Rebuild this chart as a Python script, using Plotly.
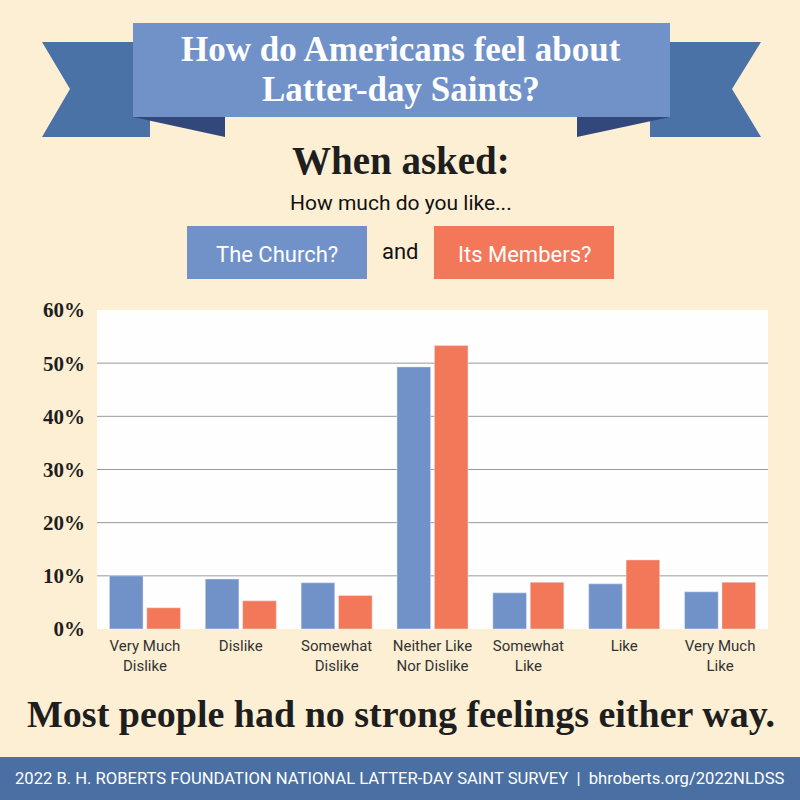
import plotly.graph_objects as go

categories = ["Very Much<br>Dislike", "Dislike", "Somewhat<br>Dislike", "Neither Like<br>Nor Dislike",
              "Somewhat<br>Like", "Like", "Very Much<br>Like"]
church = [10.0, 9.4, 8.7, 49.3, 6.8, 8.5, 7.0]
members = [4.0, 5.3, 6.3, 53.3, 8.8, 13.0, 8.8]
tick_vals = [0, 10, 20, 30, 40, 50, 60]
tick_text = ["0%", "10%", "20%", "30%", "40%", "50%", "60%"]

BG = "#FDEFD3"
BLUE = "#7192C9"
ORANGE = "#F27859"
RIBBON = "#4A72A6"
FOLD = "#33487A"
FOOT = "#4A6FA2"
SERIF = "Liberation Serif"
SANS = "Roboto"

W, H = 800, 800
L, R, T, B = 97, 32, 310, 171
PW, PH = W - L - R, H - T - B


def px(x):
    return (x - L) / PW


def py(y):
    return (H - B - y) / PH


fig = go.Figure()
fig.add_bar(x=categories, y=church, marker_color=BLUE, name="The Church?")
fig.add_bar(x=categories, y=members, marker_color=ORANGE, name="Its Members?")

shapes = []
# grid lines
for v in tick_vals[1:-1]:
    shapes.append(dict(type="line", xref="paper", yref="y", x0=0, x1=1, y0=v, y1=v,
                       line=dict(color="#9A9A9A", width=1), layer="below"))


def poly(points, color):
    d = "M " + " L ".join(f"{px(x):.5f},{py(y):.5f}" for x, y in points) + " Z"
    return dict(type="path", xref="paper", yref="paper", path=d, fillcolor=color,
                line=dict(width=0), layer="above")


# ribbon ends
shapes.append(poly([(42, 42), (150, 42), (150, 137), (42, 137), (70, 89)], RIBBON))
shapes.append(poly([(761, 42), (650, 42), (650, 137), (761, 137), (732, 89)], RIBBON))
shapes.append(poly([(133, 117), (225, 117), (225, 137)], FOLD))
shapes.append(poly([(670, 117), (577, 117), (577, 137)], FOLD))
# banner
shapes.append(poly([(133, 23), (670, 23), (670, 117), (133, 117)], BLUE))
# boxes
shapes.append(poly([(187, 226), (367, 226), (367, 279), (187, 279)], BLUE))
shapes.append(poly([(434, 226), (614, 226), (614, 279), (434, 279)], ORANGE))
# footer band
shapes.append(poly([(0, 757), (800, 757), (800, 800), (0, 800)], FOOT))

ann = []


def text(x, y, s, size, color, family, bold=False):
    ann.append(dict(xref="paper", yref="paper", x=px(x), y=py(y), text=(f"<b>{s}</b>" if bold else s),
                    showarrow=False, xanchor="center", yanchor="middle",
                    font=dict(size=size, color=color, family=family)))


text(401, 49, "How do Americans feel about", 35, "white", SERIF, True)
text(401, 89, "Latter-day Saints?", 35, "white", SERIF, True)
text(401, 160, "When asked:", 39, "#1E1E1E", SERIF, True)
text(401, 203, "How much do you like...", 21, "#111111", SANS)
text(277, 254, "The Church?", 22, "white", SANS)
text(400, 252, "and", 22, "#111111", SANS)
text(524, 254, "Its Members?", 22, "white", SANS)
text(401, 714, "Most people had no strong feelings either way.", 38, "#1E1E1E", SERIF, True)
text(400, 778, "2022 B. H. ROBERTS FOUNDATION NATIONAL LATTER-DAY SAINT SURVEY  |  bhroberts.org/2022NLDSS",
     16.6, "white", SANS)

fig.update_layout(
    width=W, height=H,
    margin=dict(l=L, r=R, t=T, b=B, pad=0),
    paper_bgcolor=BG, plot_bgcolor="#FEFEFE",
    barmode="group", bargap=0.22, bargroupgap=0.1,
    showlegend=False,
    shapes=shapes, annotations=ann,
    xaxis=dict(showgrid=False, showline=False, ticks="", fixedrange=True, ticklabelstandoff=6,
               tickfont=dict(family=SANS, size=15, color="#333333")),
    yaxis=dict(range=[0, 60], tickvals=tick_vals, ticktext=[f"<b>{t}</b>" for t in tick_text],
               showgrid=False, zeroline=False, showline=False, ticks="", ticklabelstandoff=11,
               tickfont=dict(family=SERIF, size=21, color="#1E1E1E"), fixedrange=True),
)

fig.write_html("out.html", config={"displayModeBar": False},
               post_script="document.body.style.margin='0';document.body.style.overflow='hidden';")
